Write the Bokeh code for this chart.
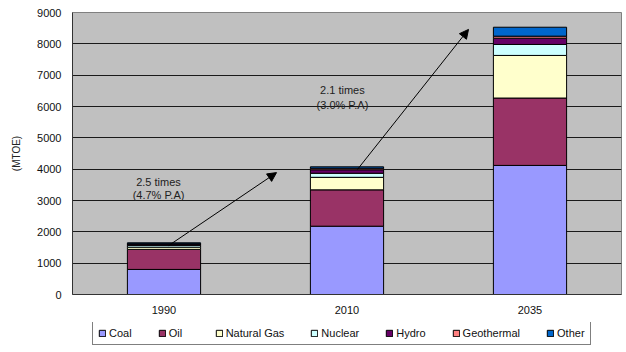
from bokeh.plotting import figure
from bokeh.layouts import column
from bokeh.models import (Range1d, FixedTicker, Legend, LegendItem, Arrow,
                          NormalHead, Label, ColumnDataSource)
from bokeh.embed import file_html
from bokeh.resources import INLINE

years = ["1990", "2010", "2035"]
coal = [800, 2180, 4120]
oil = [640, 1160, 2150]
natural_gas = [70, 400, 1360]
nuclear = [60, 130, 350]
hydro = [40, 110, 200]
geothermal = [10, 50, 65]
other = [30, 45, 285]

series_names = ["Coal", "Oil", "Natural Gas", "Nuclear", "Hydro", "Geothermal", "Other"]
series_keys = ["coal", "oil", "gas", "nuclear", "hydro", "geo", "other"]
colors = ["#9999FF", "#993366", "#FFFFCC", "#CCFFFF", "#660066", "#FF8080", "#0066CC"]
y_ticks = [0, 1000, 2000, 3000, 4000, 5000, 6000, 7000, 8000, 9000]

source = ColumnDataSource(dict(
    x=list(range(len(years))), coal=coal, oil=oil, gas=natural_gas,
    nuclear=nuclear, hydro=hydro, geo=geothermal, other=other))

FONT = "Liberation Sans"

p = figure(width=626, height=322, output_backend="svg", toolbar_location=None,
           x_range=Range1d(-0.5, 2.5), y_range=Range1d(0, 9000),
           min_border_left=72, min_border_right=5, min_border_top=12,
           min_border_bottom=28, background_fill_color="#C0C0C0",
           border_fill_color="white", outline_line_color="#808080")

renderers = p.vbar_stack(series_keys, x="x", width=0.4, source=source,
                         color=colors, line_color="black", line_width=1)

# axes
p.xaxis.ticker = FixedTicker(ticks=list(range(len(years))))
p.xaxis.major_label_overrides = {i: y for i, y in enumerate(years)}
p.yaxis.ticker = FixedTicker(ticks=y_ticks)
for ax in (p.xaxis[0], p.yaxis[0]):
    ax.major_tick_out = 0
    ax.major_tick_in = 0
    ax.minor_tick_out = 0
    ax.minor_tick_in = 0
    ax.axis_line_color = "#333333"
    ax.major_label_text_font = FONT
    ax.major_label_text_font_size = "11px"
    ax.major_label_text_color = "#111111"
p.xaxis.major_label_standoff = 11
p.yaxis.major_label_standoff = 11
p.yaxis.axis_label = "(MTOE)"
p.yaxis.axis_label_text_font = FONT
p.yaxis.axis_label_text_font_size = "10px"
p.yaxis.axis_label_text_font_style = "normal"
p.yaxis.axis_label_text_color = "#222222"
p.yaxis.axis_label_standoff = 12

p.xgrid.grid_line_color = None
p.ygrid.grid_line_color = "#1a1a1a"
p.ygrid.grid_line_width = 1

# arrows
p.add_layout(Arrow(x_start=0.025, y_start=1560, x_end=0.615, y_end=3890,
                   line_color="black", line_width=1,
                   end=NormalHead(size=9, fill_color="black", line_color="black")))
p.add_layout(Arrow(x_start=1.057, y_start=3990, x_end=1.664, y_end=8460,
                   line_color="black", line_width=1,
                   end=NormalHead(size=9, fill_color="black", line_color="black")))

# annotations
for x, y, t in [(-0.03, 3600, "2.5 times"), (-0.03, 3190, "(4.7% P.A)"),
                (0.975, 6540, "2.1 times"), (0.975, 6060, "(3.0% P.A)")]:
    p.add_layout(Label(x=x, y=y, text=t, text_align="center", text_baseline="middle",
                       text_font=FONT, text_font_size="11px", text_color="#222222"))

# legend strip below the chart (legend-only swatch renderers, kept off-range)
p2 = figure(width=626, height=30, output_backend="svg", toolbar_location=None,
            min_border=0, x_axis_location=None, y_axis_location=None,
            x_range=Range1d(0, 1), y_range=Range1d(0, 1),
            outline_line_color=None, background_fill_color="white",
            border_fill_color="white")
p2.xgrid.grid_line_color = None
p2.ygrid.grid_line_color = None
legend_renderers = [p2.vbar(x=[-100], top=[-100], bottom=[-101], width=0.4,
                            fill_color=c, line_color="black")
                    for c in colors]

legend = Legend(items=[LegendItem(label=n, renderers=[r])
                       for n, r in zip(series_names, legend_renderers)],
                orientation="horizontal", location=(20, 7),
                label_text_font=FONT, label_text_font_size="11px",
                label_text_color="#111111",
                glyph_width=8, glyph_height=8, label_standoff=3, spacing=26,
                padding=5, margin=0, border_line_color="black", border_line_width=1,
                background_fill_color="white", background_fill_alpha=1.0,
                label_height=12)
p2.add_layout(legend, "center")

layout = column(p, p2, spacing=0)
open("out.html", "w").write(file_html(layout, INLINE))
